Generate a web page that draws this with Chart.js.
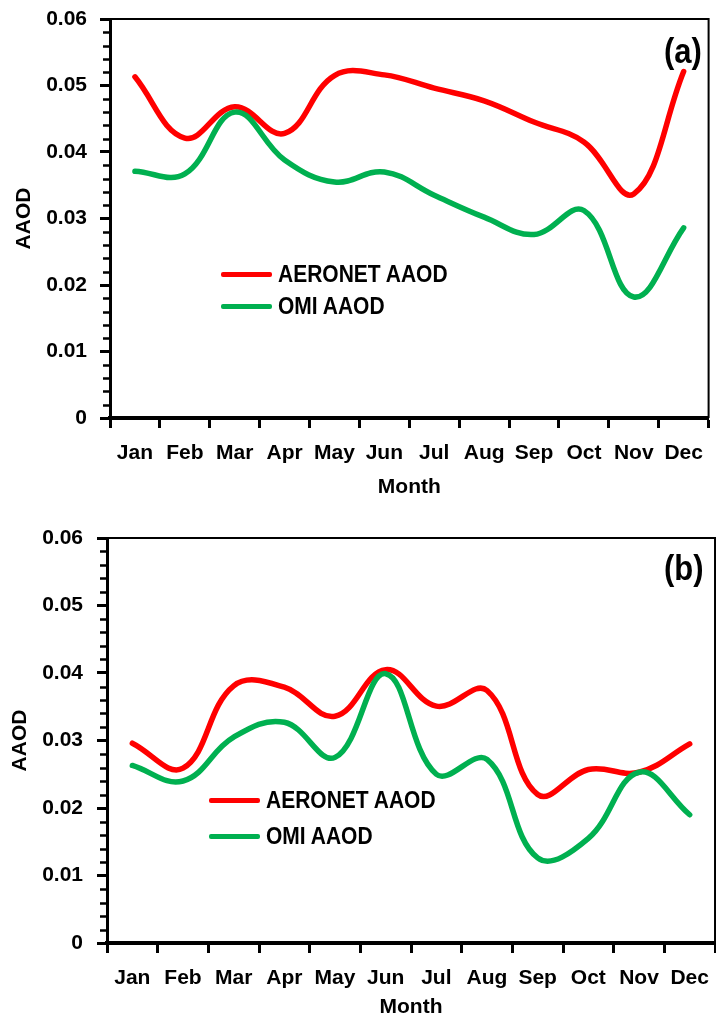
<!DOCTYPE html>
<html>
<head>
<meta charset="utf-8">
<title>AAOD monthly</title>
<script src="https://cdn.jsdelivr.net/npm/chart.js@4.4.1/dist/chart.umd.min.js"></script>
<style>
  html, body { margin: 0; padding: 0; background: #fff; overflow: hidden; }
  body { position: relative; width: 716px; height: 1023px; font-family: "Liberation Sans", Arial, sans-serif; font-weight: bold; color: #000; }
  canvas { position: absolute; left: 0; }
  .tag { position: absolute; font-size: 31px; line-height: 1; transform: scaleY(1.15); transform-origin: left top; }
  .legend { position: absolute; font-size: 21px; }
  .legend .row { display: flex; align-items: center; }
  .legend .name { display: inline-block; transform: scaleY(1.12); }
  .legend .swatch { display: inline-block; width: 51px; height: 5px; margin-right: 6px; border-radius: 2px; }
</style>
</head>
<body>
<canvas id="chartA" width="716" height="510" style="top:0"></canvas>
<canvas id="chartB" width="722" height="503" style="top:520px"></canvas>
<div class="tag" style="left:664px; top:33px">(a)</div>
<div class="tag" style="left:664px; top:550px">(b)</div>
<div class="legend" id="legendA" style="left:221px; top:258px"></div>
<div class="legend" id="legendB" style="left:209px; top:782px"></div>

<script>
const months = ["Jan", "Feb", "Mar", "Apr", "May", "Jun", "Jul", "Aug", "Sep", "Oct", "Nov", "Dec"];
const seriesNames = ["AERONET AAOD", "OMI AAOD"];
const seriesColors = ["#ff0000", "#00b050"];

// panel (a)
const aeronetA = [0.0513, 0.0421, 0.0468, 0.0428, 0.0515, 0.0516, 0.0496, 0.0477, 0.0445, 0.0415, 0.0337, 0.0521];
const omiA = [0.0371, 0.0367, 0.0460, 0.0388, 0.0355, 0.0370, 0.0335, 0.0302, 0.0276, 0.0312, 0.0182, 0.0286];

// panel (b)
const aeronetB = [0.0296, 0.0259, 0.0381, 0.0379, 0.0336, 0.0405, 0.0351, 0.0374, 0.0220, 0.0257, 0.0253, 0.0295];
const omiB = [0.0263, 0.0240, 0.0305, 0.0327, 0.0275, 0.0399, 0.0250, 0.0272, 0.0126, 0.0155, 0.0253, 0.0190];

const yTicks = [0, 0.01, 0.02, 0.03, 0.04, 0.05, 0.06];

const tickFont = { family: "'Liberation Sans', Arial, sans-serif", size: 21, weight: "bold" };
const titleFont = { family: "'Liberation Sans', Arial, sans-serif", size: 21, weight: "bold" };

// minor ticks on the y axis plus the thin box line on top and right
const axisExtras = {
    id: "axisExtras",
    afterDraw(chart) {
        const { ctx, chartArea: a, scales: { y } } = chart;
        ctx.save();
        ctx.strokeStyle = "#000";
        ctx.lineWidth = 2.5;
        ctx.beginPath();
        for (let i = 1; i < 30; i++) {
            if (i % 5 === 0) continue;
            const py = Math.round(y.getPixelForValue(i * 0.002)) + 0.5;
            ctx.moveTo(a.left - 7, py);
            ctx.lineTo(a.left, py);
        }
        ctx.stroke();
        ctx.lineWidth = 2;
        ctx.beginPath();
        ctx.moveTo(a.left, a.top);
        ctx.lineTo(a.right, a.top);
        ctx.lineTo(a.right, a.bottom);
        ctx.stroke();
        ctx.restore();
    }
};

function makePanel(id, aeronet, omi, p) {
    const ctx = document.getElementById(id).getContext("2d");
    return new Chart(ctx, {
        type: "line",
        data: {
            labels: months,
            datasets: [
                { label: seriesNames[0], data: aeronet, borderColor: seriesColors[0], order: 2 },
                { label: seriesNames[1], data: omi, borderColor: seriesColors[1], order: 1 }
            ]
        },
        options: {
            responsive: false,
            animation: false,
            layout: { padding: { top: p.top, right: p.right, left: 0, bottom: 0 } },
            plugins: { legend: { display: false }, tooltip: { enabled: false } },
            elements: {
                point: { radius: 0 },
                line: { tension: 0.4, borderWidth: 5.5, borderCapStyle: "round", fill: false }
            },
            scales: {
                x: {
                    offset: true,
                    grid: { offset: true, drawOnChartArea: false, tickLength: 10, tickWidth: 3, tickColor: "#000" },
                    border: { color: "#000", width: 4 },
                    ticks: { color: "#000", font: tickFont, padding: p.xPad, maxRotation: 0, autoSkip: false },
                    title: { display: true, text: "Month", color: "#000", font: titleFont, padding: { top: 0, bottom: p.monthPad } },
                    afterFit: s => { s.height = p.xHeight; }
                },
                y: {
                    min: 0,
                    max: 0.06,
                    afterBuildTicks: s => { s.ticks = yTicks.map(v => ({ value: v })); },
                    ticks: { color: "#000", font: tickFont, padding: p.yPad, callback: v => v === 0 ? "0" : v.toFixed(2) },
                    grid: { drawOnChartArea: false, tickLength: 10, tickWidth: 3, tickColor: "#000" },
                    border: { color: "#000", width: 3 },
                    title: { display: true, text: "AAOD", color: "#000", font: titleFont, padding: { top: p.aaodPad, bottom: 0 } },
                    // fixed axis width; let the layout padding alone set the plot top
                    afterFit: s => { s.width = p.yWidth; s.paddingTop = 0; s.paddingBottom = 0; }
                }
            }
        },
        plugins: [axisExtras]
    });
}

function buildLegend(id, rowHeight) {
    const box = document.getElementById(id);
    seriesNames.forEach((name, i) => {
        const row = document.createElement("div");
        row.className = "row";
        row.style.height = rowHeight + "px";
        const sw = document.createElement("span");
        sw.className = "swatch";
        sw.style.background = seriesColors[i];
        const txt = document.createElement("span");
        txt.className = "name";
        txt.textContent = name;
        row.appendChild(sw);
        row.appendChild(txt);
        box.appendChild(row);
    });
}

makePanel("chartA", aeronetA, omiA, { top: 19, right: 2, yWidth: 110, xHeight: 92, xPad: 13, yPad: 13, monthPad: 10, aaodPad: 12 });
makePanel("chartB", aeronetB, omiB, { top: 18, right: 1, yWidth: 107, xHeight: 80, xPad: 13, yPad: 14, monthPad: 3, aaodPad: 8 });

buildLegend("legendA", 32);
buildLegend("legendB", 36);
</script>
</body>
</html>
